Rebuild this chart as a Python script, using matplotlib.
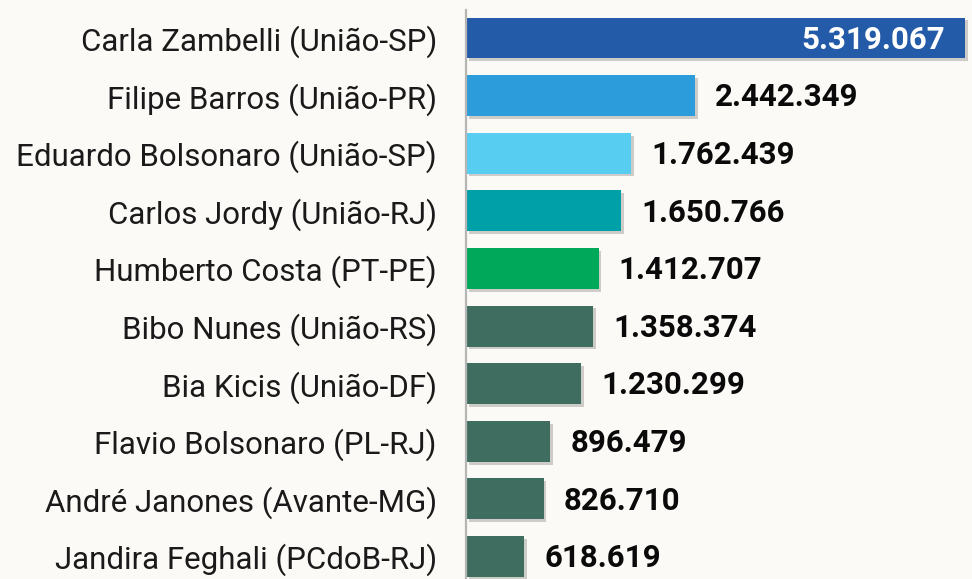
import matplotlib.pyplot as plt
import matplotlib.patheffects as pe

# Data
names = ["Carla Zambelli (União-SP)", "Filipe Barros (União-PR)",
         "Eduardo Bolsonaro (União-SP)", "Carlos Jordy (União-RJ)",
         "Humberto Costa (PT-PE)", "Bibo Nunes (União-RS)",
         "Bia Kicis (União-DF)", "Flavio Bolsonaro (PL-RJ)",
         "André Janones (Avante-MG)", "Jandira Feghali (PCdoB-RJ)"]
values = [5319067, 2442349, 1762439, 1650766, 1412707,
          1358374, 1230299, 896479, 826710, 618619]
colors = ["#235BA8", "#2D9CDB", "#58CDF2", "#00A0A8", "#00A85A",
          "#3F6E60", "#3F6E60", "#3F6E60", "#3F6E60", "#3F6E60"]


def fmt(v):
    return f"{v:,}".replace(",", ".")


def plot_chart():
    """Horizontal bar chart of values per politician."""
    plt.rcParams['font.family'] = ['Roboto', 'DejaVu Sans']
    bg = "#FCFAF6"
    fig = plt.figure(figsize=(9.72, 5.79), dpi=100, facecolor=bg)
    ax = fig.add_axes([466 / 972, 0, 506 / 972, 1], facecolor=bg)

    ypos = list(range(len(values)))
    bars = ax.barh(ypos, values, height=0.71, color=colors, zorder=2)
    for b in bars:
        b.set_path_effects([pe.SimplePatchShadow(offset=(2, -2),
                                                 shadow_rgbFace="#777777",
                                                 alpha=0.35),
                            pe.Normal()])

    xmax = values[0] * 506 / 499
    ax.set_xlim(0, xmax)
    ax.set_ylim(9.39, -0.66)

    for i, v in enumerate(values):
        if i == 0:
            ax.text(v - xmax * 0.04, i + 0.03, fmt(v), ha="right", va="center",
                    color="white", fontsize=22.5, fontweight="bold", zorder=3)
        else:
            ax.text(v + xmax * 0.04, i + 0.03, fmt(v), ha="left", va="center",
                    color="#0A0A0A", fontsize=22.5, fontweight="bold", zorder=3)

    ax.set_yticks(ypos)
    ax.set_yticklabels(names, fontsize=22.5, color="#1A1A1A")
    ax.tick_params(axis="y", length=0, pad=21)
    ax.set_xticks([])
    for s in ["top", "right", "bottom"]:
        ax.spines[s].set_visible(False)
    ax.spines["left"].set_color("#B5B5B5")
    ax.spines["left"].set_linewidth(1.6)
    ax.spines["left"].set_bounds(9.39, -0.49)

    fig.savefig("out.png", dpi=100, facecolor=bg)


if __name__ == "__main__":
    plot_chart()
